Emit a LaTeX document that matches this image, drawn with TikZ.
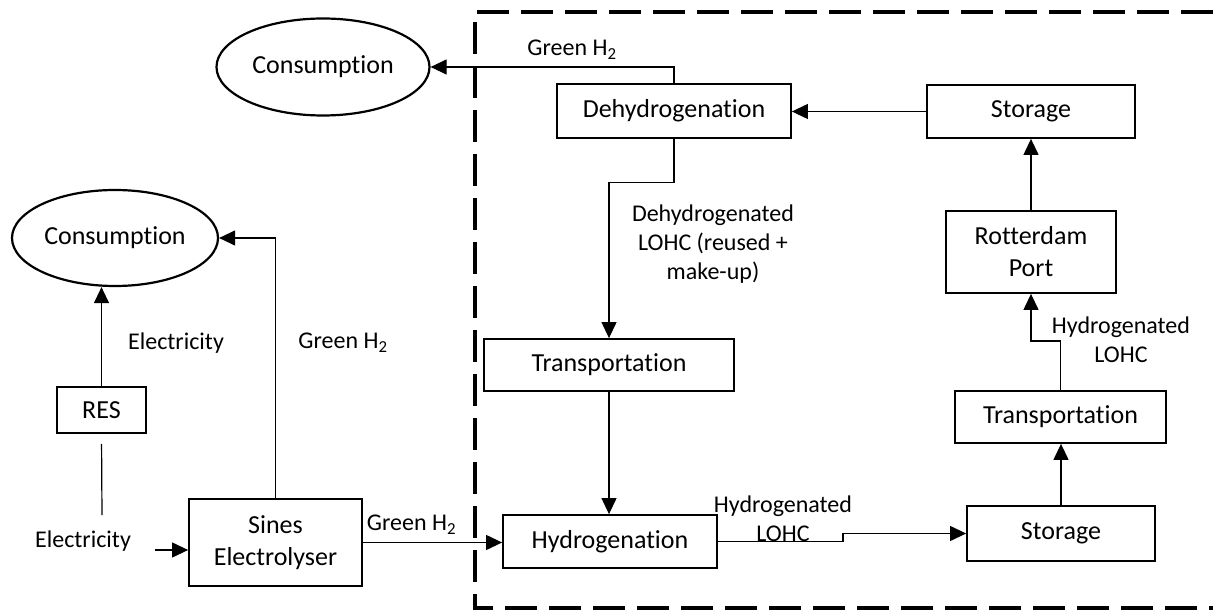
\documentclass[tikz,border=0pt]{standalone}
\usepackage{fontspec}
\setmainfont[Ligatures={NoCommon,NoRare,NoContextual},RawFeature={-liga;-clig;-calt;-dlig}]{Carlito}
\usetikzlibrary{arrows.meta,shapes.geometric,calc}
\begin{document}
\begin{tikzpicture}[x=1pt,y=-1pt,
  boxtext/.style={font=\fontsize{26}{32}\selectfont},
  lbl/.style={font=\fontsize{24}{29}\selectfont, align=center, inner sep=0pt},
  blk/.style={draw, line width=1.8pt, rectangle, inner sep=0pt, align=center, boxtext},
  oval/.style={draw, line width=2.2pt, ellipse, inner sep=0pt, boxtext},
  conn/.style={line width=1.2pt},
  arr/.style={conn, -{Triangle[length=16pt,width=15pt]}},
  frame/.style={line width=4pt, dash pattern=on 32pt off 12pt}]
\useasboundingbox (0,0) rectangle (1213,612);

% dashed boundary
\coordinate (ftr) at (1213,12);
\coordinate (ftl) at (475,12);
\coordinate (fbl) at (475,608);
\coordinate (fbr) at (1213,608);
\draw[frame] (ftr) -- (ftl) -- (fbl) -- (fbr);

% nodes
\node[oval, minimum width=213pt, minimum height=97pt] (cons1) at (323,67) {Consumption};
\node[oval, minimum width=206pt, minimum height=96pt] (cons2) at (115,238) {Consumption};
\node[blk, minimum width=234pt, minimum height=54pt] (dehy) at (674,111) {Dehydrogenation};
\node[blk, minimum width=208pt, minimum height=53pt] (stor1) at (1031,111.5) {Storage};
\node[blk, minimum width=170pt, minimum height=82pt] (rott) at (1031,252) {Rotterdam\\Port};
\node[blk, minimum width=211pt, minimum height=52pt] (tr2) at (1060.5,417) {Transportation};
\node[blk, minimum width=188pt, minimum height=55pt] (stor2) at (1061,533.5) {Storage};
\node[blk, minimum width=250pt, minimum height=52pt] (tr1) at (609,365) {Transportation};
\node[blk, minimum width=214pt, minimum height=53pt] (hyd) at (610,541.5) {Hydrogenation};
\node[blk, minimum width=173pt, minimum height=87pt] (sines) at (275.5,542.5) {Sines\\Electrolyser};
\node[blk, minimum width=89pt, minimum height=46pt] (res) at (101.5,410) {RES};

% labels
\node[lbl] (lgreen1) at (572,50) {Green H\textsubscript{2}};
\node[lbl] (ldehy) at (713,244) {Dehydrogenated\\LOHC (reused +\\make-up)};
\node[lbl] (lhyd1) at (1121,339.5) {Hydrogenated\\LOHC};
\node[lbl] (lhyd2) at (783,518.5) {Hydrogenated\\LOHC};
\node[lbl] (lgreen2) at (411.5,525) {Green H\textsubscript{2}};
\node[lbl] (lelec1) at (83,541) {Electricity};
\node[lbl] (lelec2) at (176,343) {Electricity};
\node[lbl] (lgreen3) at (343,343) {Green H\textsubscript{2}};

% connectors
\draw[arr] (dehy.north) |- (cons1.east);
\draw[arr] (stor1.west) -- (stor1.west -| dehy.east);
\draw[arr] (rott.north) -- (rott.north |- stor1.south);
\draw[arr] (tr2.north) -- ++(0,-49) -| (rott.south);
\draw[arr] (stor2.north) -- (stor2.north |- tr2.south);
\draw[arr] (hyd.east) -- ++(125,0) |- (stor2.west);
\draw[arr] (dehy.south) -- ++(0,44) -| (tr1.north);
\draw[arr] (tr1.south) -- (tr1.south |- hyd.north);
\draw[arr] (sines.east) -- (sines.east -| hyd.west);
\draw[arr] (sines.north) |- (cons2.east);
\draw[arr] (res.north) -- (res.north |- cons2.south);
\coordinate (eltop) at (102,515);
\draw[conn, shorten <=10pt] (res.south) -- (eltop);
\coordinate (elin) at (155,550);
\draw[arr] (elin) -- (elin -| sines.west);
\end{tikzpicture}
\end{document}
